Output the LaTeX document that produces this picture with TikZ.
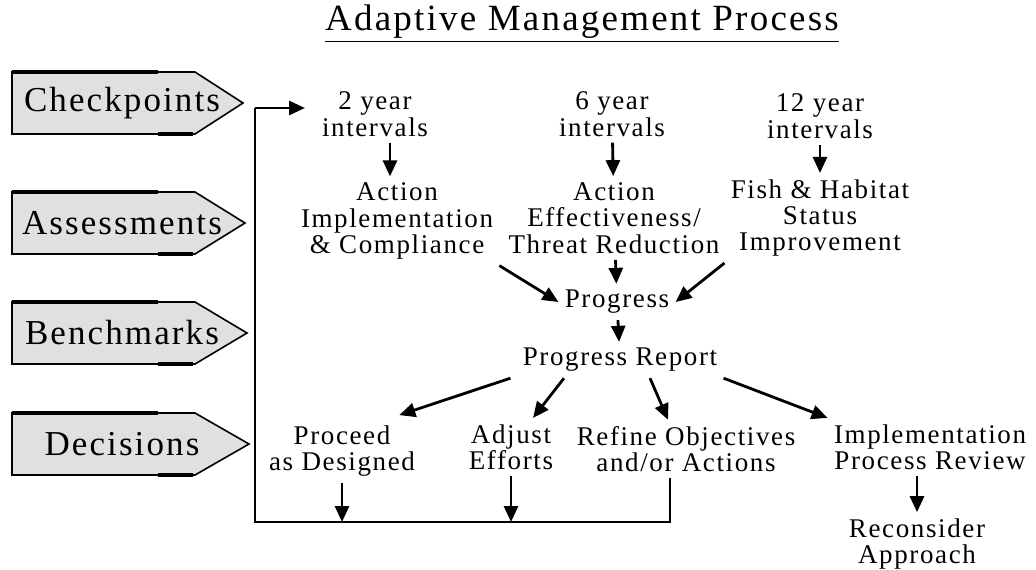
\documentclass[tikz,border=0pt]{standalone}
\usepackage{fontspec}
\setmainfont[LetterSpace=6]{Liberation Serif}
\usetikzlibrary{arrows.meta,positioning,calc}

\tikzstyle{step node}=[align=center,inner sep=3pt,font=\fontsize{13.5}{13.2}\selectfont]
\tikzstyle{tablabel}=[inner sep=0pt,font=\fontsize{17.5}{19}\selectfont]
\tikzstyle{tabbox}=[draw=black,fill=black!12,line width=0.8pt]
\tikzstyle{edge}=[draw,line width=1.4pt,-{Triangle[length=8pt,width=7pt]}]
\tikzstyle{loop}=[draw,line width=1.4pt]

\begin{document}
\begin{tikzpicture}[x=0.5pt,y=-0.5pt]
\useasboundingbox (0,0) rectangle (1036,569);

\node[font=\fontsize{18.5}{21}\selectfont] (title) at (582,24) {\underline{Adaptive Management Process}};

% left side labels
\foreach \y/\tip/\lab/\name in {72/243/Checkpoints/cp,192/245/Assessments/as,302/247/Benchmarks/bm,413/249/Decisions/dc}{
 \draw[tabbox] (12,\y) -- (195,\y) -- (\tip,\y+31) -- (195,\y+62) -- (12,\y+62) -- cycle;
 \draw[line width=1.6pt] (12,\y) -- (158,\y);
 \draw[line width=1.6pt] (158,\y+62) -- (193,\y+62);
 \node[tablabel] (\name) at (122,\y+31) {\lab};
}

% checkpoints
\node[step node] (two) at (375,114) {2 year\\intervals};
\node[step node] (six) at (612,114) {6 year\\intervals};
\node[step node] (twelve) at (820,116) {12 year\\intervals};

% assessments
\node[step node] (aic) at (397,221) {Action\\Implementation\\\& Compliance};
\node[step node] (aet) at (614,218) {Action\\Effectiveness/\\Threat Reduction};
\node[step node] (fhs) at (820,218) {Fish \& Habitat\\Status\\Improvement};

% benchmarks
\node[step node] (prog) at (617,302) {Progress};
\node[step node] (rep) at (620,360) {Progress Report};

% decisions
\node[step node] (proc) at (342,451) {Proceed\\as Designed};
\node[step node] (adj) at (511,447) {Adjust\\Efforts};
\node[step node] (ref) at (686,449) {Refine Objectives\\and/or Actions};
\node[step node] (imp) at (930,447) {Implementation\\Process Review};
\node[step node] (rec) at (917,544) {Reconsider\\Approach};

\path[edge] (two.south -| 390,0) -- (aic.north -| 390,0);
\path[edge] (six) -- (aet);
\path[edge] (twelve) -- (fhs);

\path[edge] (aic.south east) -- (prog.west);
\path[edge] (aet) -- (prog);
\path[edge] (fhs.south west) -- (prog.east);
\path[edge] (prog) -- (rep);

\path[edge] ([xshift=-3pt]rep.south west) -- ([xshift=-11pt,yshift=2pt]proc.north east);
\path[edge] ([xshift=-28pt]rep.south) -- ([xshift=11pt]adj.north);
\path[edge] ([xshift=15pt]rep.south) -- ([xshift=-9pt]ref.north);
\path[edge] (rep.south east) -- (imp.north west);
\path[edge] (imp.south -| rec.north) -- (rec.north);

% feedback loop
\coordinate (looprt) at (670,522);
\coordinate (loopbl) at (255,522);
\coordinate (looptl) at (255,108);
\coordinate (loopend) at (305,108);
\path[loop] (ref.south -| looprt) -- (looprt) -- (loopbl) -- (looptl);
\path[edge] (looptl) -- (loopend);
\path[edge] (proc.south) -- (proc.south |- loopbl);
\path[edge] (adj.south) -- (adj.south |- loopbl);
\end{tikzpicture}
\end{document}
